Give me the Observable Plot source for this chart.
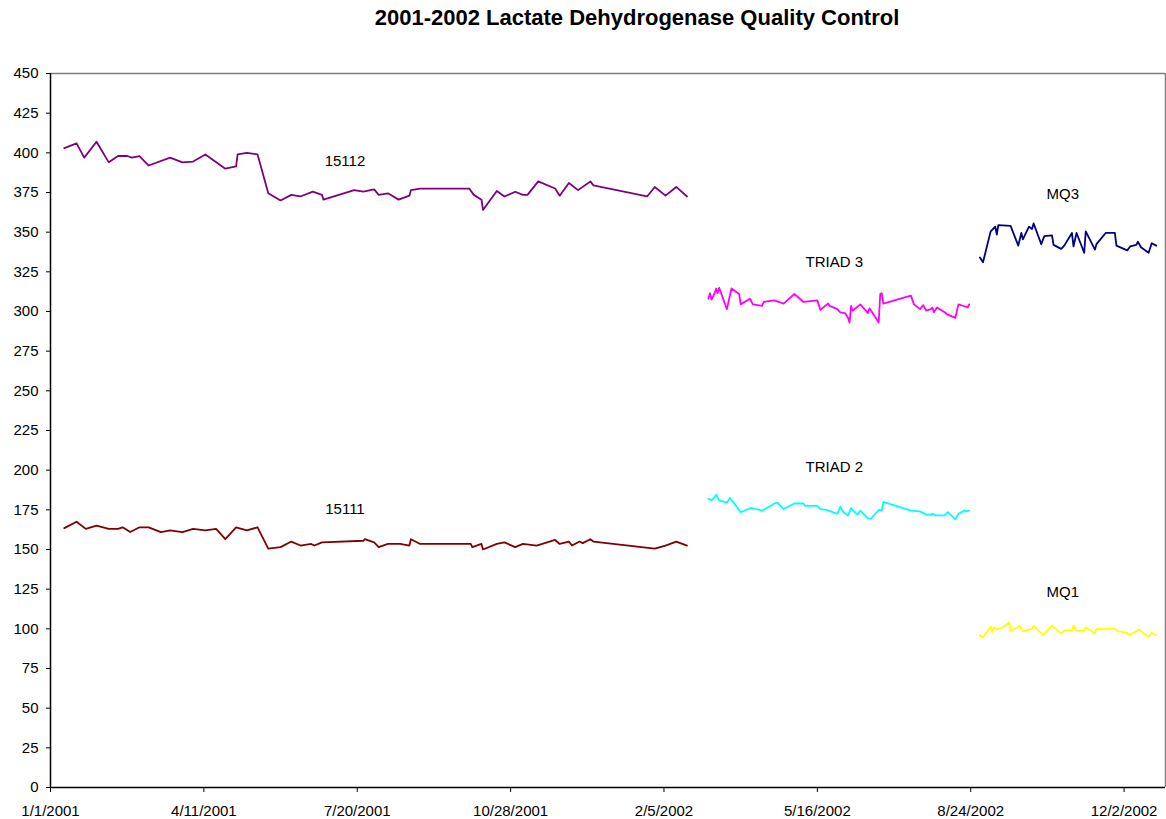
<!DOCTYPE html>
<html>
<head>
<meta charset="utf-8">
<script src="https://cdn.jsdelivr.net/npm/d3@7"></script>
<script src="https://cdn.jsdelivr.net/npm/@observablehq/plot@0.6"></script>
<style>
  html, body { margin: 0; padding: 0; background: #fff; }
  #wrap { width: 1166px; height: 819px; overflow: hidden; font-family: "Liberation Sans", Arial, sans-serif; }
  #title { box-sizing: border-box; width: 1166px; height: 36px; line-height: 36px; padding-left: 108px; text-align: center; font-weight: bold; font-size: 22px; color: #000; }
</style>
</head>
<body>
<div id="wrap">
  <div id="title">2001-2002 Lactate Dehydrogenase Quality Control</div>
  <div id="chart"></div>
</div>
<script>
// ---- data ----
const dates15112 = ["2001-01-10","2001-01-18","2001-01-23","2001-01-31","2001-02-08","2001-02-14","2001-02-20","2001-02-23","2001-02-28","2001-03-06","2001-03-20","2001-03-28","2001-04-04","2001-04-12","2001-04-17","2001-04-25","2001-05-02","2001-05-03","2001-05-09","2001-05-16","2001-05-23","2001-05-31","2001-06-07","2001-06-13","2001-06-21","2001-06-27","2001-06-28","2001-07-18","2001-07-24","2001-07-31","2001-08-03","2001-08-09","2001-08-16","2001-08-23","2001-08-24","2001-08-30","2001-10-01","2001-10-04","2001-10-09","2001-10-10","2001-10-19","2001-10-24","2001-10-31","2001-11-05","2001-11-08","2001-11-15","2001-11-26","2001-11-29","2001-12-05","2001-12-11","2001-12-19","2001-12-21","2002-01-25","2002-01-30","2002-02-06","2002-02-13","2002-02-20"];
const values15112 = [403,406,397,407,394,398,398,397,398,392,397,394,394.5,399,395.5,390,391.5,399,400,399,374.5,370,373.5,372.5,375.5,373.5,370.5,376.5,375.5,377,373.5,374.5,370.5,373,376.5,377.5,377.5,373.5,370.5,364,376,372.5,375.5,373.5,373.5,382,377.5,373,381,376.5,382,379.5,372.5,378.5,373,378.5,372.5];

const dates15111 = ["2001-01-10","2001-01-18","2001-01-24","2001-01-31","2001-02-08","2001-02-14","2001-02-17","2001-02-22","2001-02-28","2001-03-06","2001-03-14","2001-03-20","2001-03-28","2001-04-04","2001-04-12","2001-04-19","2001-04-25","2001-05-02","2001-05-09","2001-05-16","2001-05-23","2001-05-31","2001-06-07","2001-06-13","2001-06-20","2001-06-22","2001-06-27","2001-07-24","2001-07-25","2001-07-31","2001-08-03","2001-08-09","2001-08-17","2001-08-23","2001-08-24","2001-08-30","2001-10-02","2001-10-03","2001-10-09","2001-10-10","2001-10-19","2001-10-24","2001-10-31","2001-11-05","2001-11-14","2001-11-26","2001-11-29","2001-12-05","2001-12-07","2001-12-12","2001-12-14","2001-12-19","2001-12-21","2002-01-30","2002-02-06","2002-02-13","2002-02-20"];
const values15111 = [163.5,167.5,163,165,163,163,164,161,164,164,161,162,161,163,162,163,156.5,164,162,164,150.5,151.5,155,152.5,153.5,152.5,154.5,155.5,156.5,154.5,151.5,153.5,153.5,152.5,156.5,153.5,153.5,151.5,153.5,150,153.5,154.5,151.5,153.5,152.5,156,153.5,155,152.5,155,154,156.5,155,150.5,152.5,155,152.5];

const datesTriad3 = ["2002-03-06","2002-03-07","2002-03-08","2002-03-10","2002-03-11","2002-03-12","2002-03-13","2002-03-18","2002-03-21","2002-03-26","2002-03-27","2002-04-02","2002-04-04","2002-04-10","2002-04-11","2002-04-18","2002-04-24","2002-05-01","2002-05-07","2002-05-16","2002-05-18","2002-05-23","2002-05-24","2002-05-29","2002-05-31","2002-06-03","2002-06-05","2002-06-06","2002-06-07","2002-06-08","2002-06-13","2002-06-18","2002-06-19","2002-06-21","2002-06-25","2002-06-26","2002-06-27","2002-06-28","2002-07-16","2002-07-18","2002-07-22","2002-07-24","2002-07-26","2002-07-29","2002-07-30","2002-07-31","2002-08-02","2002-08-07","2002-08-09","2002-08-14","2002-08-16","2002-08-21","2002-08-22","2002-08-23"];
const valuesTriad3 = [308,311.5,307.5,311.5,314.5,311.5,315,301.5,314.5,311,304.5,308,304.5,303.5,306,307,305,311,306,307,301,305,303.5,301.5,299.5,299,296,293,303.5,300.5,304.5,299,302,299,293,311,311.5,305,310,304.5,301.5,304,300.5,301.5,302.5,299.5,302.5,299.5,298,296,304.5,303,302.5,304.5];

const datesTriad2 = ["2002-03-06","2002-03-08","2002-03-10","2002-03-11","2002-03-13","2002-03-18","2002-03-20","2002-03-22","2002-03-27","2002-04-02","2002-04-04","2002-04-10","2002-04-18","2002-04-20","2002-04-24","2002-05-01","2002-05-07","2002-05-08","2002-05-16","2002-05-18","2002-05-22","2002-05-29","2002-05-31","2002-06-02","2002-06-05","2002-06-07","2002-06-11","2002-06-13","2002-06-18","2002-06-20","2002-06-25","2002-06-27","2002-06-28","2002-07-16","2002-07-22","2002-07-26","2002-07-29","2002-07-30","2002-08-01","2002-08-07","2002-08-09","2002-08-14","2002-08-16","2002-08-20","2002-08-21","2002-08-23"];
const valuesTriad2 = [182,181,183,184.5,181,179.5,182.5,180,173.5,176,176,174.5,179,179.5,175.5,179,179,177.5,177.5,175.5,175,172.5,177,173.5,171.5,176,172,174.5,169.5,169.5,175,174.5,180,174.5,174,172,172,172.5,171.5,171.5,173.5,169,172.5,174.5,174,174.5];

const datesMQ3 = ["2002-08-30","2002-09-01","2002-09-06","2002-09-07","2002-09-09","2002-09-10","2002-09-11","2002-09-19","2002-09-24","2002-09-26","2002-09-27","2002-10-01","2002-10-03","2002-10-04","2002-10-09","2002-10-11","2002-10-16","2002-10-17","2002-10-22","2002-10-24","2002-10-29","2002-10-30","2002-11-01","2002-11-06","2002-11-07","2002-11-13","2002-11-14","2002-11-20","2002-11-26","2002-11-27","2002-12-04","2002-12-06","2002-12-10","2002-12-11","2002-12-13","2002-12-18","2002-12-20","2002-12-23"];
const valuesMQ3 = [334,331,350.5,351.5,353.5,348.5,354.5,354,341.5,349.5,345.5,353.5,352,355.5,342.5,347.5,348,342,339.5,341.5,349.5,341,349.5,337,350.5,339,342.5,349.5,349.5,341.5,338.5,341,342,344,340.5,337,343,341.5];

const datesMQ1 = ["2002-08-30","2002-09-01","2002-09-05","2002-09-06","2002-09-07","2002-09-08","2002-09-10","2002-09-14","2002-09-18","2002-09-19","2002-09-25","2002-09-27","2002-10-03","2002-10-04","2002-10-10","2002-10-16","2002-10-22","2002-10-24","2002-10-29","2002-10-30","2002-11-01","2002-11-06","2002-11-07","2002-11-13","2002-11-14","2002-11-20","2002-11-26","2002-11-28","2002-12-04","2002-12-05","2002-12-10","2002-12-12","2002-12-15","2002-12-18","2002-12-20","2002-12-23"];
const valuesMQ1 = [96,94.5,100,101.5,98,101,99.5,101,104,98.5,102,98.5,100,102,96,102,97,99,99,102,98.5,99,101,97,100,100,100,98.5,97.5,96,98.5,99.5,97,95,97.5,96];

const seriesNames = ["15112","15111","TRIAD 3","TRIAD 2","MQ3","MQ1"];
const seriesColors = ["#800080","#800000","#FF00FF","#00FFFF","#000080","#FFFF00"];

// annotation labels (name, date, value at label centre)
const labelNames = ["15112","15111","TRIAD 3","TRIAD 2","MQ3","MQ1"];
const labelDates = ["2001-07-12","2001-07-12","2002-05-27","2002-05-27","2002-10-23","2002-10-23"];
const labelValues = [395,175.6,331,201.8,374,123];

const xTicks = ["2001-01-01","2001-04-11","2001-07-20","2001-10-28","2002-02-05","2002-05-16","2002-08-24","2002-12-02"];
const yTicks = [0,25,50,75,100,125,150,175,200,225,250,275,300,325,350,375,400,425,450];
const xDomain = ["2001-01-01","2002-12-29"];
const yDomain = [0,450];

// ---- build ----
const parse = d3.utcParse("%Y-%m-%d");
const build = (name, ds, vs) => ds.map((d, i) => ({series: name, date: parse(d), value: vs[i]}));
const rows = [
  ...build("15112", dates15112, values15112),
  ...build("15111", dates15111, values15111),
  ...build("TRIAD 3", datesTriad3, valuesTriad3),
  ...build("TRIAD 2", datesTriad2, valuesTriad2),
  ...build("MQ3", datesMQ3, valuesMQ3),
  ...build("MQ1", datesMQ1, valuesMQ1)
];
const labels = labelNames.map((n, i) => ({name: n, date: parse(labelDates[i]), value: labelValues[i]}));
const fmt = d3.utcFormat("%-m/%-d/%Y");
const xd = xDomain.map(parse);

const chart = Plot.plot({
  width: 1166,
  height: 783,
  marginTop: 37,
  marginBottom: 32,
  marginLeft: 50,
  marginRight: 1,
  style: {fontFamily: "'Liberation Sans', Arial, sans-serif", fontSize: "15px", color: "#000", background: "#fff"},
  x: {type: "utc", domain: xd, ticks: xTicks.map(parse), tickFormat: fmt, tickSize: 5, tickPadding: 13, label: null},
  y: {domain: yDomain, ticks: yTicks, tickSize: 4, tickPadding: 8, label: null},
  color: {domain: seriesNames, range: seriesColors},
  marks: [
    Plot.ruleY([yDomain[1]], {stroke: "#808080", strokeWidth: 1.5}),
    Plot.ruleX([xd[1]], {stroke: "#808080", strokeWidth: 1.5}),
    Plot.line(rows, {x: "date", y: "value", z: "series", stroke: "series", strokeWidth: 1.8}),
    Plot.text(labels, {x: "date", y: "value", text: "name", fill: "#000", fontSize: 15}),
    Plot.ruleX([xd[0]], {stroke: "#000", strokeWidth: 1.5}),
    Plot.ruleY([0], {stroke: "#000", strokeWidth: 1.5})
  ]
});
chart.querySelectorAll('[aria-label$="tick"] path, [aria-label$="tick"]').forEach(g => { g.setAttribute("stroke", "#000"); });
document.getElementById("chart").appendChild(chart);
</script>
</body>
</html>
